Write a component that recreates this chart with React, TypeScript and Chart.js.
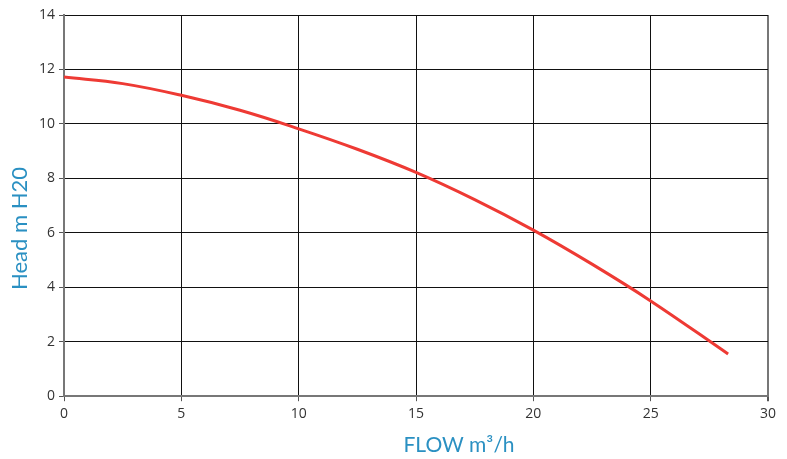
import React, { useEffect, useRef } from "react";
import { Chart, registerables } from "chart.js";

Chart.register(...registerables);

const flowValues = [0, 2.5, 5, 7.5, 10, 12.5, 15, 17.5, 20, 22.5, 25, 28.3];
const headValues = [11.72, 11.48, 11.05, 10.5, 9.82, 9.07, 8.22, 7.22, 6.1, 4.85, 3.5, 1.55];
const xTitle = "FLOW m³/h";
const yTitle = "Head m H20";
const titleColor = "#2a90c2";

const titlePlugin = {
  id: "axisTitles",
  afterDraw(chart: any) {
    const { ctx, chartArea } = chart;
    ctx.save();
    ctx.fillStyle = titleColor;
    ctx.font = "400 21px Lato";
    ctx.textAlign = "center";
    ctx.textBaseline = "middle";
    ctx.fillText(xTitle, (chartArea.left + chartArea.right) / 2 + 43, 445);
    ctx.translate(20, chartArea.top + (chartArea.bottom - chartArea.top) * 0.56);
    ctx.rotate(-Math.PI / 2);
    ctx.font = "400 22px Lato";
    ctx.fillText(yTitle, 0, 0);
    ctx.restore();
  },
};

export default function App() {
  const ref = useRef<HTMLCanvasElement>(null);
  useEffect(() => {
    document.body.style.margin = "0";
    const ctx = ref.current!;
    const chart = new Chart(ctx, {
      type: "line",
      data: {
        datasets: [
          {
            data: flowValues.map((x, i) => ({ x, y: headValues[i] })),
            borderColor: "#ee3a34",
            borderWidth: 3,
            pointRadius: 0,
            tension: 0.4,
            fill: false,
          },
        ],
      },
      plugins: [titlePlugin],
      options: {
        animation: false,
        responsive: false,
        maintainAspectRatio: false,
        layout: { padding: { top: 15, right: 19, left: 35, bottom: 33 } },
        plugins: { legend: { display: false }, tooltip: { enabled: false } },
        scales: {
          x: {
            type: "linear",
            min: 0,
            max: 30,
            ticks: { stepSize: 5, color: "#333", font: { family: "Open Sans", size: 14 }, padding: 4 },
            grid: {
              color: (c: any) => (c.tick && c.tick.value === 30 ? "#777" : "#111"),
              lineWidth: (c: any) => (c.tick && c.tick.value === 30 ? 2 : 1),
              tickLength: 5,
              tickColor: "#555",
            },
            border: { color: "#777", width: 2 },
          },
          y: {
            min: 0,
            max: 14,
            ticks: { stepSize: 2, color: "#333", font: { family: "Open Sans", size: 14 }, padding: 4 },
            grid: { color: "#111", lineWidth: 1, tickLength: 5, tickColor: "#555" },
            border: { color: "#777", width: 2 },
          },
        },
      },
    });
    return () => chart.destroy();
  }, []);
  return (
    <div style={{ width: 787, height: 459, background: "#fff" }}>
      <canvas ref={ref} width={787} height={459} style={{ display: "block" }} />
    </div>
  );
}
